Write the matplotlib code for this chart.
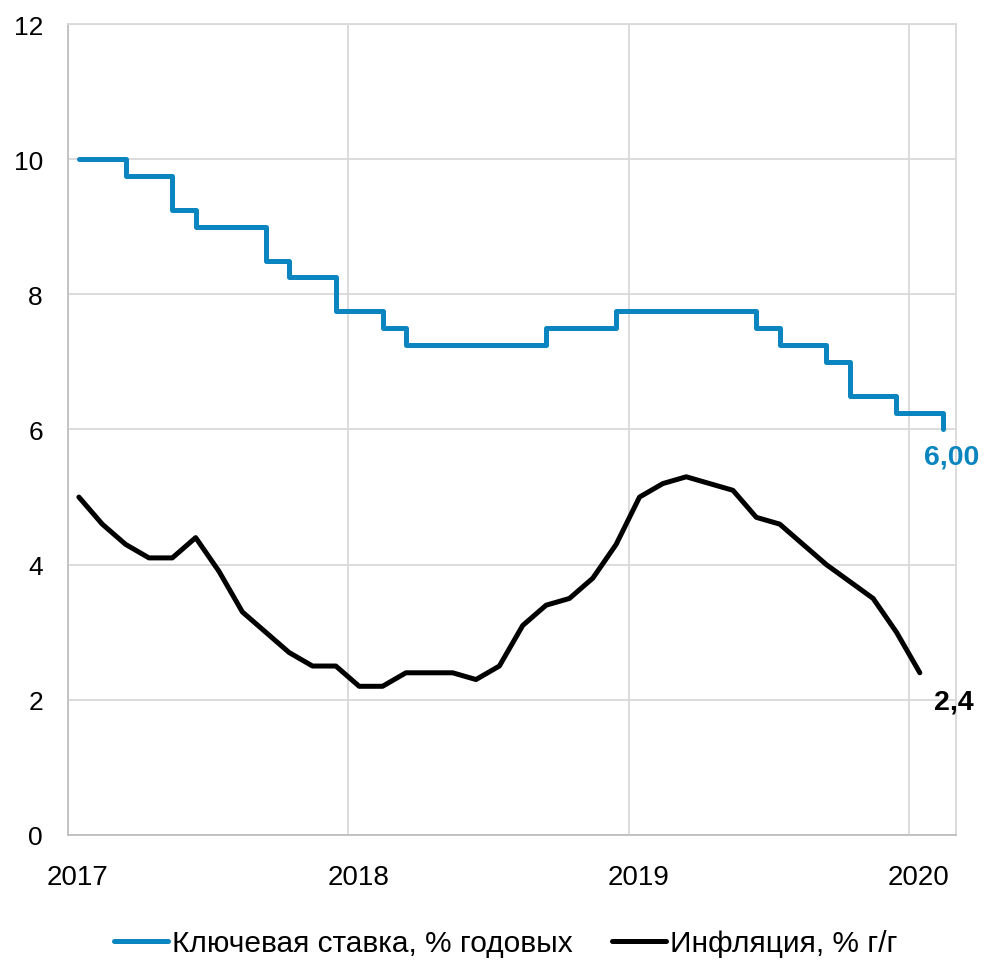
import matplotlib
matplotlib.use("Agg")
import matplotlib.pyplot as plt
import matplotlib.transforms as mtransforms
import numpy as np

plt.rcParams["font.family"] = ["Liberation Sans", "DejaVu Sans"]

# monthly data, Jan 2017 .. Jan/Feb 2020
start_year = 2017
key_rate = [10.0, 10.0, 9.75, 9.75, 9.25, 9.0, 9.0, 9.0, 8.5, 8.25, 8.25, 7.75,
            7.75, 7.5, 7.25, 7.25, 7.25, 7.25, 7.25, 7.25, 7.5, 7.5, 7.5, 7.75,
            7.75, 7.75, 7.75, 7.75, 7.75, 7.5, 7.25, 7.25, 7.0, 6.5, 6.5, 6.25,
            6.25, 6.0]
inflation = [5.0, 4.6, 4.3, 4.1, 4.1, 4.4, 3.9, 3.3, 3.0, 2.7, 2.5, 2.5,
             2.2, 2.2, 2.4, 2.4, 2.4, 2.3, 2.5, 3.1, 3.4, 3.5, 3.8, 4.3,
             5.0, 5.2, 5.3, 5.2, 5.1, 4.7, 4.6, 4.3, 4.0, 3.75, 3.5, 3.0,
             2.4]
years = [2017, 2018, 2019, 2020]
y_ticks = [0, 2, 4, 6, 8, 10, 12]
label_rate = "Ключевая ставка, % годовых"
label_infl = "Инфляция, % г/г"

blue = "#0A85C0"
grid_c = "#D9D9D9"

x_rate = start_year + (np.arange(len(key_rate)) + 0.47) / 12
x_infl = start_year + (np.arange(len(inflation)) + 0.47) / 12

fig = plt.figure(figsize=(9.84, 9.62), dpi=100)
ax = fig.add_axes([0.069, 0.131, 0.9025, 0.843])

ax.plot(x_rate, key_rate, color=blue, lw=3.6, drawstyle="steps-post",
        solid_capstyle="round", solid_joinstyle="round", label=label_rate, zorder=3)
ax.plot(x_infl, inflation, color="black", lw=3.6,
        solid_capstyle="round", solid_joinstyle="round", label=label_infl, zorder=3)

# end labels
ax.annotate(f"{key_rate[-1]:.2f}".replace(".", ","), (x_rate[-1], key_rate[-1]),
            xytext=(8, -27), textcoords="offset pixels", ha="center", va="center",
            color=blue, fontsize=20.5, fontweight="bold")
ax.annotate(f"{inflation[-1]:.1f}".replace(".", ","), (x_infl[-1], inflation[-1]),
            xytext=(34, -29), textcoords="offset pixels", ha="center", va="center",
            color="black", fontsize=20.5, fontweight="bold")

ax.set_xlim(2017.0, 2020.168)
ax.set_ylim(0, 12)
ax.set_xticks(years)
ax.set_xticklabels([str(y) for y in years])
ax.set_yticks(y_ticks)
ax.tick_params(axis="both", length=0)
ax.tick_params(axis="x", pad=21, labelsize=20)
ax.tick_params(axis="y", pad=18, labelsize=19)
offset = mtransforms.ScaledTranslation(0.1, 0, fig.dpi_scale_trans)
for lbl in ax.get_xticklabels():
    lbl.set_transform(lbl.get_transform() + offset)

ax.grid(True, color=grid_c, lw=1.3)
ax.set_axisbelow(True)
for side in ["left", "bottom"]:
    ax.spines[side].set_color("#BFBFBF")
    ax.spines[side].set_linewidth(1.3)
for side in ["top", "right"]:
    ax.spines[side].set_color(grid_c)
    ax.spines[side].set_linewidth(1.3)

fig.legend(loc="lower center", bbox_to_anchor=(0.514, -0.024), ncol=2, frameon=False,
           fontsize=21.5, handlelength=1.8, handletextpad=0.15, columnspacing=1.3)

fig.savefig("out.png", dpi=100)
